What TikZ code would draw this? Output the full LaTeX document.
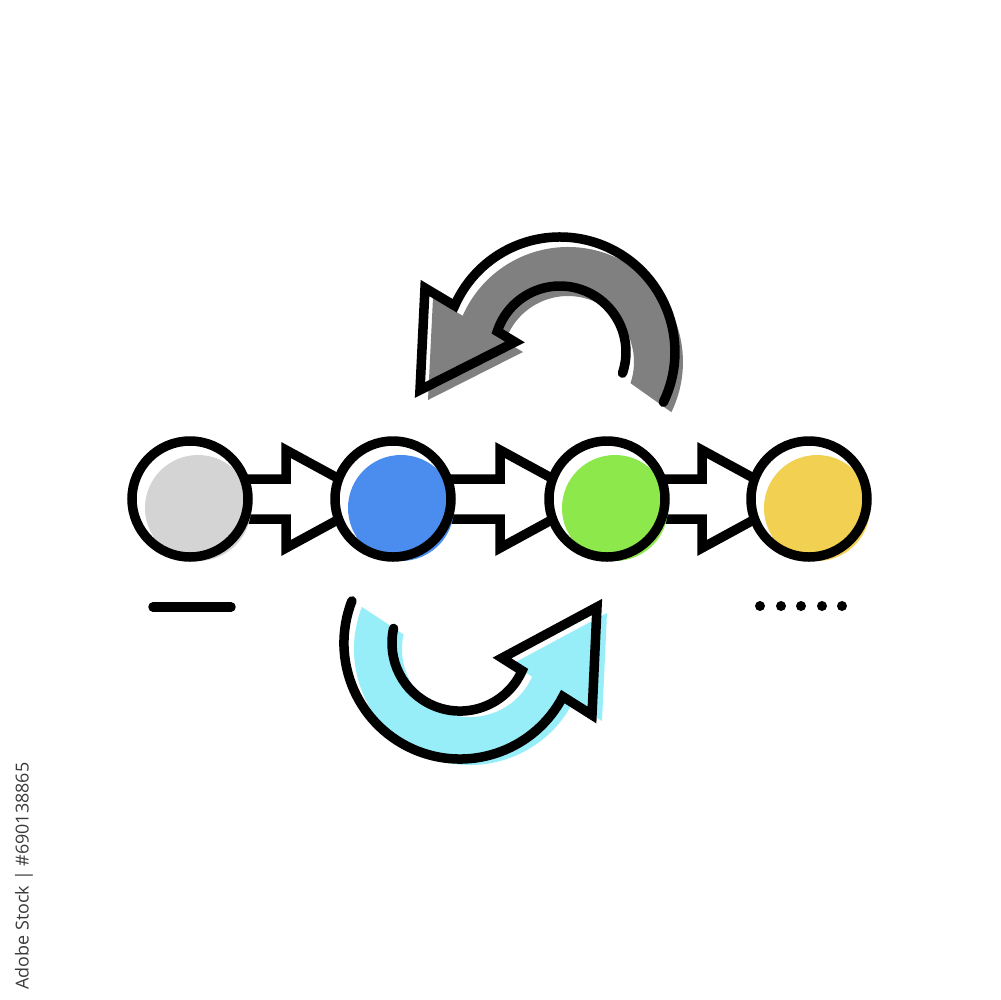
\documentclass[tikz,border=0pt]{standalone}
\usepackage{fontspec}
\newfontfamily\stockfont{Open Sans}
\usetikzlibrary{calc}

\definecolor{cgray}{HTML}{D4D4D4}
\definecolor{cblue}{HTML}{4A8DEF}
\definecolor{cgreen}{HTML}{8DE94B}
\definecolor{cyellow}{HTML}{F2D152}
\definecolor{cdark}{HTML}{808080}
\definecolor{ccyan}{HTML}{97EEF8}
\definecolor{ctext}{HTML}{3A3A3A}

\begin{document}
\begin{tikzpicture}[x=0.1mm, y=-0.1mm,
  ring/.style={circle, draw, line width=\lw, minimum size=11.6mm, inner sep=0pt},
  blockarrow/.style={draw, fill=white, line width=\lw, line join=miter},
  curvestroke/.style={draw, line width=\lw, line cap=round, line join=miter}]
  \def\lw{0.95mm}
  \def\shaft{20}  % half height of the arrow shafts
  \def\head{49}   % half height of the arrow heads

  \useasboundingbox (0,0) rectangle (1000,1000);

  % curved arrows: outer arc, head, inner arc
  \def\toparrow{(663.4,402.2) arc[start angle=25.9, end angle=-156.3, radius=115]
    -- (425,288) -- (420,390) -- (515,342) -- (497.3,331.4)
    arc[start angle=-161.8, end angle=18.7, radius=66]}
  \def\botarrow{(351.9,600.9) arc[start angle=201.3, end angle=27.5, radius=116]
    -- (592,715) -- (597,607) -- (502,658) -- (522.1,670.7)
    arc[start angle=24, end angle=192.4, radius=68]}

  \fill[cdark, transform canvas={shift={(8,10)}}] \toparrow -- cycle;
  \draw[curvestroke] \toparrow;
  \fill[ccyan, transform canvas={shift={(10,6)}}] \botarrow -- cycle;
  \draw[curvestroke] \botarrow;

  % steps of the chain
  \coordinate (c1) at (190,499);
  \coordinate (c2) at (393,499);
  \coordinate (c3) at (607,499);
  \coordinate (c4) at (809,499);

  \foreach \a/\b in {c1/c2, c2/c3, c3/c4}{
    \draw[blockarrow] ($(\a)+(30,-\shaft)$) -- ($(\b)+(-107,-\shaft)$)
      -- ($(\b)+(-107,-\head)$) -- ($(\b)+(-17,0)$) -- ($(\b)+(-107,\head)$)
      -- ($(\b)+(-107,\shaft)$) -- ($(\a)+(30,\shaft)$) -- cycle;
  }

  \foreach \n/\col in {1/cgray, 2/cblue, 3/cgreen, 4/cyellow}{
    \fill[white] (c\n) circle[radius=58];
    \fill[\col] ($(c\n)+(8,9)$) circle[radius=53];
    \node[ring] (ring\n) at (c\n) {};
  }

  % start and end marks
  \draw[line width=\lw, line cap=round] (153,607) -- (231,607);
  \foreach \x in {760,781,801,822,842}
    \fill (\x,606) circle[radius=5];

  \node[rotate=90, text=ctext, inner sep=0pt,
    font=\stockfont\fontsize{5.1pt}{6pt}\selectfont] (stock) at (24,876)
    {Adobe Stock | \#690138865};
\end{tikzpicture}
\end{document}
